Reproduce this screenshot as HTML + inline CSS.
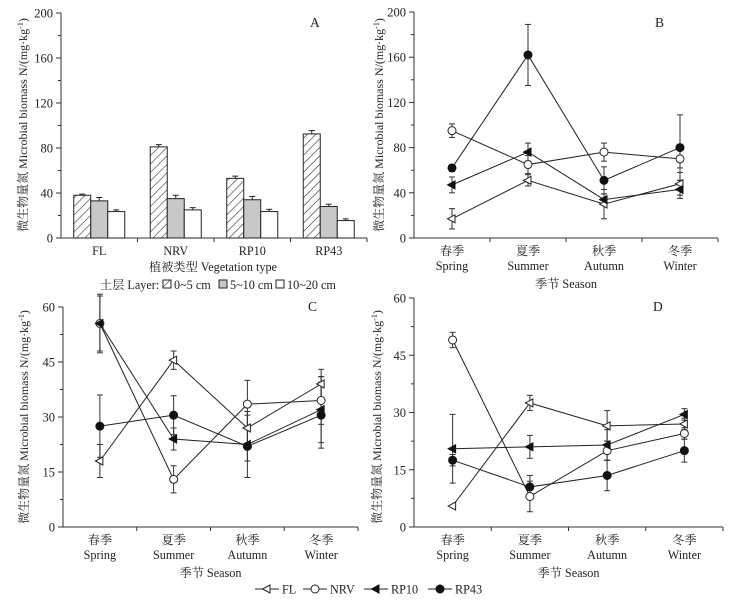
<!DOCTYPE html>
<html><head><meta charset="utf-8"><style>
body{margin:0;background:#fff;}
svg{display:block;font-family:"Liberation Serif","Noto Serif CJK SC","Noto Sans CJK SC",serif;}
</style></head><body>
<svg id="c" width="750" height="610" viewBox="0 0 750 610" xmlns="http://www.w3.org/2000/svg"></svg>
<script>
// Panel A data
const catsA = ["FL","NRV","RP10","RP43"];
const layer0to5 = [38, 81, 53, 92.5];
const layer0to5Err = [1, 2, 2, 3];
const layer5to10 = [33, 35, 34, 28];
const layer5to10Err = [3, 3, 3, 2];
const layer10to20 = [23.5, 25, 23.5, 15.5];
const layer10to20Err = [1.5, 2, 2, 1.5];
const ticksA = [0,40,80,120,160,200];
// Season panels
const seasonsCN = ["春季","夏季","秋季","冬季"];
const seasonsEN = ["Spring","Summer","Autumn","Winter"];
const seriesNames = ["FL","NRV","RP10","RP43"];
const B_FL = [17, 51, 30, 48];      const B_FL_err = [9, 5, 13, 10];
const B_NRV = [95, 65, 76, 70];     const B_NRV_err = [6, 8, 8, 8];
const B_RP10 = [47, 76, 34, 43];    const B_RP10_err = [7, 8, 5, 8];
const B_RP43 = [62, 162, 51, 80];   const B_RP43_err = [3, 27, 12, 29];
const ticksB = [0,40,80,120,160,200];
const C_FL = [18, 45.5, 27, 39];    const C_FL_err = [4.5, 2.5, 4.5, 4];
const C_NRV = [55.5, 13, 33.5, 34.5]; const C_NRV_err = [8, 3.7, 6.5, 6.5];
const C_RP10 = [55.5, 24, 22.5, 32]; const C_RP10_err = [7.5, 3, 4.5, 9];
const C_RP43 = [27.5, 30.5, 22, 30.5]; const C_RP43_err = [8.5, 5.3, 8.5, 9];
const ticksC = [0,15,30,45,60];
const D_FL = [5.5, 32.5, 26.5, 27]; const D_FL_err = [0, 2, 4, 1.5];
const D_NRV = [49, 8, 20, 24.5];    const D_NRV_err = [2, 4, 2.5, 1.5];
const D_RP10 = [20.5, 21, 21.5, 29.5]; const D_RP10_err = [9, 3, 4, 1.5];
const D_RP43 = [17.5, 10.5, 13.5, 20]; const D_RP43_err = [1.5, 3, 4, 3];
const ticksD = [0,15,30,45,60];

const svg = document.getElementById('c');
const NS = "http://www.w3.org/2000/svg";
function el(tag, attrs, parent){ const e=document.createElementNS(NS,tag); for(const k in attrs) e.setAttribute(k,attrs[k]); (parent||svg).appendChild(e); return e; }
function txt(s, x, y, attrs, parent){ const t=el('text', Object.assign({x:x,y:y,'font-size':12.2,fill:'#222'},attrs||{}), parent); t.textContent=s; return t; }

const defs = el('defs',{});
const pat = el('pattern',{id:'hatch',width:6,height:6,patternUnits:'userSpaceOnUse',patternTransform:'rotate(45)'},defs);
el('rect',{width:6,height:6,fill:'#fff'},pat);
el('line',{x1:0,y1:0,x2:0,y2:6,stroke:'#333','stroke-width':1.2},pat);

function axes(g, x0, x1, y0, y1, ymax, ticks, label, lx, ly, titleX, titleY){
  const sy = v => y0 - (v/ymax)*(y0-y1);
  el('line',{x1:x0,y1:y0,x2:x1,y2:y0,stroke:'#333','stroke-width':1},g);
  el('line',{x1:x0,y1:y0,x2:x0,y2:y1,stroke:'#333','stroke-width':1},g);
  ticks.forEach((v,i)=>{
    el('line',{x1:x0-5,y1:sy(v),x2:x0,y2:sy(v),stroke:'#333'},g);
    const t=txt(String(v), x0-8, sy(v)+4.5, {'text-anchor':'end','font-size':12.5}, g);
    
    
    if(i<ticks.length-1){ const m=(v+ticks[i+1])/2; el('line',{x1:x0-3,y1:sy(m),x2:x0,y2:sy(m),stroke:'#333'},g); }
  });
  const w=(x1-x0)/4;
  for(let i=1;i<=4;i++) el('line',{x1:x0+w*i,y1:y0,x2:x0+w*i,y2:y0+4,stroke:'#333'},g);
  const pl = txt(label, lx, ly, {'font-size':13.5}, g);
  
  
  const yt = txt("微生物量氮 Microbial biomass N/(mg·kg", 0, 0, {'text-anchor':'middle','font-size':12,transform:`translate(${titleX},${titleY}) rotate(-90)`}, g);
  const sup = el('tspan',{'baseline-shift':'super','font-size':8},yt); sup.textContent='-1';
  const cl = el('tspan',{},yt); cl.textContent=')';
  
  
  return sy;
}

// Panel A
(function(){
  const g = el('g',{});
  
  
  const x0=61,x1=367,y0=238,y1=13;
  const sy = axes(g,x0,x1,y0,y1,200,ticksA,"A",310,27,27,125);
  const w=(x1-x0)/4, bw=17;
  const sets=[[layer0to5,layer0to5Err,'url(#hatch)','bar-0-5cm'],[layer5to10,layer5to10Err,'#c8c8c8','bar-5-10cm'],[layer10to20,layer10to20Err,'#fff','bar-10-20cm']];
  catsA.forEach((c,i)=>{
    const cx=x0+w*i+w/2;
    sets.forEach((s,j)=>{
      const bx=cx-1.5*bw+j*bw, v=s[0][i], e=s[1][i];
      const r=el('rect',{x:bx,y:sy(v),width:bw,height:sy(0)-sy(v),fill:s[2],stroke:'#222','stroke-width':1},g);
      
      
      const mx=bx+bw/2;
      el('line',{x1:mx,y1:sy(v),x2:mx,y2:sy(v+e),stroke:'#222'},g);
      el('line',{x1:mx-3,y1:sy(v+e),x2:mx+3,y2:sy(v+e),stroke:'#222'},g);
    });
    const t=txt(c,cx,255,{'text-anchor':'middle'},g);
    
    
  });
  const xt=txt("植被类型 Vegetation type",213,271,{'text-anchor':'middle'},g);
  
  
  const lg=el('g',{},g);
  
  
  txt("土层 Layer:",100,289,{},lg);
  el('rect',{x:163,y:280,width:8,height:8,fill:'url(#hatch)',stroke:'#222'},lg);
  txt("0~5 cm",174,289,{},lg);
  el('rect',{x:219,y:280,width:8,height:8,fill:'#c8c8c8',stroke:'#222'},lg);
  txt("5~10 cm",230,289,{},lg);
  el('rect',{x:276,y:280,width:8,height:8,fill:'#fff',stroke:'#222'},lg);
  txt("10~20 cm",287,289,{},lg);
})();

function marker(g,k,x,y){
  if(k===0) return el('path',{d:`M${x-4.5},${y} L${x+3},${y-4} L${x+3},${y+4} Z`,fill:'#fff',stroke:'#222'},g);
  if(k===1) return el('circle',{cx:x,cy:y,r:4,fill:'#fff',stroke:'#222'},g);
  if(k===2) return el('path',{d:`M${x-4.5},${y} L${x+3},${y-4} L${x+3},${y+4} Z`,fill:'#111',stroke:'#111'},g);
  return el('circle',{cx:x,cy:y,r:4,fill:'#111',stroke:'#111'},g);
}

function seasonPanel(name,label,x0,x1,y0,y1,ymax,ticks,series,errs,lblX,lblY,tX,tY){
  const g=el('g',{});
  
  
  const sy=axes(g,x0,x1,y0,y1,ymax,ticks,label,lblX,lblY,tX,tY);
  const w=(x1-x0)/4, sx=i=>x0+w*i+w/2;
  series.forEach((s,k)=>{
    const pts=s.map((v,i)=>`${sx(i)},${sy(v)}`).join(' ');
    const pl=el('polyline',{points:pts,fill:'none',stroke:'#222','stroke-width':1},g);
    
    
    s.forEach((v,i)=>{
      const e=errs[k][i];
      if(e>0){
        el('line',{x1:sx(i),y1:sy(v-e),x2:sx(i),y2:sy(v+e),stroke:'#333'},g);
        el('line',{x1:sx(i)-3,y1:sy(v+e),x2:sx(i)+3,y2:sy(v+e),stroke:'#333'},g);
        el('line',{x1:sx(i)-3,y1:sy(v-e),x2:sx(i)+3,y2:sy(v-e),stroke:'#333'},g);
      }
    });
  });
  series.forEach((s,k)=>{
    s.forEach((v,i)=>{
      const m=marker(g,k,sx(i),sy(v));
      
      
    });
  });
  for(let i=0;i<4;i++){
    const a=txt(seasonsCN[i],sx(i),y0+17,{'text-anchor':'middle'},g);
    
    
    const b=txt(seasonsEN[i],sx(i),y0+32,{'text-anchor':'middle'},g);
    
    
  }
  const xt=txt("季节 Season",(x0+x1)/2,y0+50,{'text-anchor':'middle'},g);
  
  
}
seasonPanel('panel-b','B',414,718,238,12,200,ticksB,[B_FL,B_NRV,B_RP10,B_RP43],[B_FL_err,B_NRV_err,B_RP10_err,B_RP43_err],655,27,383,125);
seasonPanel('panel-c','C',63,358,527,307,60,ticksC,[C_FL,C_NRV,C_RP10,C_RP43],[C_FL_err,C_NRV_err,C_RP10_err,C_RP43_err],308,311,28,417);
seasonPanel('panel-d','D',414,723,527,298,60,ticksD,[D_FL,D_NRV,D_RP10,D_RP43],[D_FL_err,D_NRV_err,D_RP10_err,D_RP43_err],653,311,381,417);

// Series legend
(function(){
  const g=el('g',{});
  
  
  const items=[[255,"FL"],[303,"NRV"],[364,"RP10"],[428,"RP43"]];
  items.forEach((it,k)=>{
    const x=it[0], y=589;
    el('line',{x1:x,y1:y,x2:x+24,y2:y,stroke:'#222'},g);
    marker(g,k,x+12,y);
    const t=txt(it[1],x+27,y+4.5,{},g);
    
    
  });
})();
</script>
</body></html>
